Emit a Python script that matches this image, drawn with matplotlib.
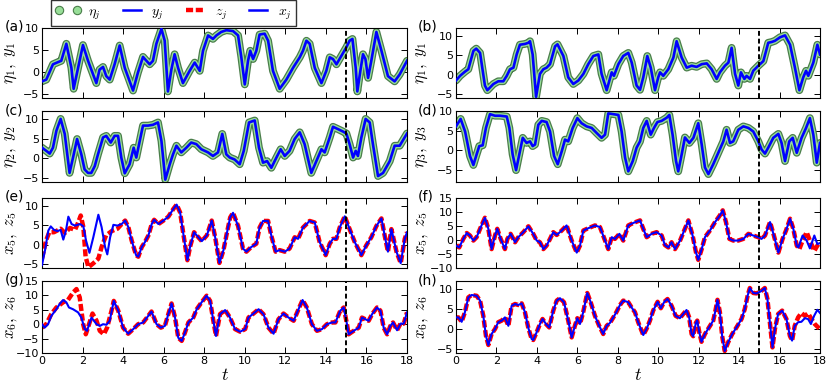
import matplotlib
matplotlib.use('Agg')
import matplotlib.pyplot as plt
import matplotlib.patheffects as pe
from matplotlib.lines import Line2D

plt.rcParams['font.family'] = ['DejaVu Sans']
plt.rcParams['mathtext.fontset'] = 'cm'

# ---------------- data: (t, value) pairs ----------------
a_y = [(0,-2.2),(0.21,-1.8),(0.54,1.7),(0.79,2.2),(0.95,2.5),(1.20,6.4),(1.45,0.9),(1.56,-3.9),(1.78,0.9),(2.02,6.1),
       (2.27,2.5),(2.68,-2.6),(2.84,0.5),(3.01,1.1),(3.17,-1.0),(3.34,-1.8),(3.58,1.7),(3.83,6.0),(4.08,0.9),(4.49,-4.3),
       (4.73,-0.2),(4.98,3.4),(5.15,2.5),(5.31,1.7),(5.47,2.5),(5.64,6.4),(5.89,9.8),(6.05,7.1),(6.21,-4.5),(6.38,0.5),
       (6.54,4.0),(6.71,0.9),(6.95,-2.6),(7.28,0.2),(7.53,2.1),(7.78,0.2),(7.94,4.8),(8.19,8.3),(8.43,7.5),(8.60,8.3),
       (8.84,9.1),(9.09,9.5),(9.42,9.3),(9.67,8.3),(9.83,3.3),(10.0,-2.9),(10.16,2.5),(10.27,4.8),(10.41,2.9),(10.57,4.8),
       (10.73,8.5),(10.98,8.7),(11.15,7.1),(11.39,0.2),(11.72,-3.9),(12.05,-1.8),(12.38,0.9),(12.71,3.3),(12.87,4.8),
       (13.04,7.1),(13.20,6.4),(13.45,0.9),(13.78,-2.6),(14.02,0.2),(14.19,3.3),(14.35,2.9),(14.52,1.7),(14.76,3.6),
       (15.01,5.6),(15.17,7.1),(15.31,7.5),(15.47,0.9),(15.55,-4.5),(15.70,0.2),(15.83,4.0),(15.95,2.9),(16.08,-1.4),
       (16.24,2.5),(16.49,9.1),(16.74,4.8),(17.06,-1.0),(17.39,-2.2),(17.64,-0.6),(18.0,2.5)]
a_eta = list(a_y)

b_y = [(0,-1.5),(0.20,-0.3),(0.45,0.8),(0.61,1.4),(0.86,6.1),(1.00,6.7),(1.19,5.6),(1.43,-2.8),(1.55,-4.0),(1.85,-2.4),
       (2.09,-1.7),(2.34,-1.7),(2.51,-0.3),(2.67,1.4),(2.84,1.8),(3.00,5.2),(3.16,7.7),(3.41,7.9),(3.58,8.2),(3.66,8.6),
       (3.79,5.2),(3.96,-5.7),(4.15,0.2),(4.32,1.4),(4.48,1.8),(4.65,2.7),(4.90,7.3),(5.02,7.8),(5.31,4.8),(5.55,-0.7),
       (5.80,-2.4),(6.05,-1.5),(6.30,0.2),(6.54,2.7),(6.79,4.8),(7.04,5.2),(7.20,0.2),(7.45,-4.0),(7.70,0.6),(7.81,-0.3),
       (8.03,2.7),(8.27,4.8),(8.52,5.6),(8.69,3.1),(8.93,-2.8),(9.10,-3.9),(9.26,-0.7),(9.46,4.8),(9.63,1.8),(9.84,-4.0),
       (10.0,-0.7),(10.09,0.6),(10.25,-0.3),(10.50,1.4),(10.75,4.4),(10.91,8.6),(11.16,4.4),(11.41,1.8),(11.65,2.3),
       (11.90,2.0),(12.15,2.7),(12.40,2.9),(12.64,1.4),(12.89,-1.1),(13.05,0.6),(13.30,2.3),(13.47,3.1),(13.63,6.9),
       (13.80,0.2),(13.96,-2.8),(14.09,0.6),(14.26,-1.1),(14.37,-0.3),(14.54,-1.1),(14.70,1.0),(14.95,2.3),(15.20,3.5),
       (15.44,8.2),(15.61,8.4),(15.77,8.7),(16.02,9.6),(16.27,10.1),(16.52,7.7),(16.76,1.8),(16.98,-4.0),(17.17,-0.7),
       (17.31,1.0),(17.42,-0.3),(17.67,3.1),(17.87,7.7),(18.0,5.2)]
b_eta = list(b_y)

c_y = [(0,2.7),(0.21,1.9),(0.38,1.2),(0.54,2.7),(0.71,7.0),(0.92,10.0),(1.12,6.2),(1.36,-3.7),(1.53,0.2),(1.73,4.9),
       (1.94,1.0),(2.10,-2.8),(2.27,-3.7),(2.43,-3.7),(2.60,-2.0),(2.76,1.0),(3.01,5.3),(3.17,5.7),(3.39,4.0),(3.58,5.7),
       (3.75,5.7),(3.91,0.2),(4.08,-3.8),(4.32,-1.5),(4.52,2.7),(4.65,0.2),(4.82,4.4),(4.98,8.3),(5.23,8.3),(5.47,8.5),
       (5.72,9.1),(5.89,4.4),(6.08,-5.4),(6.30,-1.5),(6.46,1.0),(6.63,3.2),(6.87,1.5),(7.12,2.7),(7.36,4.0),(7.61,3.6),
       (7.86,2.3),(8.19,1.5),(8.43,0.6),(8.68,1.5),(8.89,6.2),(9.09,1.0),(9.26,0.2),(9.50,-0.3),(9.75,-1.5),(9.95,1.9),
       (10.21,9.1),(10.49,9.6),(10.70,2.7),(10.90,-1.1),(11.10,-0.7),(11.31,-2.4),(11.56,0.2),(11.77,2.3),(11.97,0.6),
       (12.21,1.9),(12.46,4.9),(12.71,6.6),(12.95,3.6),(13.28,-3.7),(13.53,-0.7),(13.78,2.3),(13.94,1.5),(14.19,5.3),
       (14.35,8.0),(14.60,7.4),(14.84,6.8),(15.01,6.3),(15.17,3.6),(15.34,0.2),(15.47,1.9),(15.58,0.6),(15.75,5.3),
       (15.96,10.0),(16.16,9.1),(16.32,3.6),(16.57,-4.5),(16.82,-3.7),(17.15,-0.7),(17.39,3.2),(17.64,3.2),(18.0,6.3)]
c_eta = list(c_y)

d_y = [(0,6.1),(0.23,8.0),(0.45,4.8),(0.69,-1.4),(0.86,-3.7),(1.02,-1.0),(1.15,1.1),(1.32,1.3),(1.48,5.7),(1.68,9.2),
       (1.93,8.8),(2.18,8.8),(2.51,8.6),(2.64,5.7),(2.80,-1.0),(2.97,-5.0),(3.13,-1.0),(3.30,3.2),(3.49,1.9),(3.66,2.3),
       (3.79,1.1),(3.91,1.5),(4.07,6.5),(4.24,7.5),(4.48,7.2),(4.65,4.8),(4.85,-1.4),(5.03,-3.5),(5.23,-0.2),(5.39,2.75),
       (5.55,2.3),(5.77,5.7),(6.0,8.2),(6.21,6.9),(6.46,6.1),(6.71,5.7),(6.96,4.4),(7.20,3.2),(7.37,4.0),(7.53,9.4),
       (7.78,9.2),(8.03,9.0),(8.19,4.8),(8.36,-1.8),(8.52,-5.3),(8.74,-2.7),(8.93,0.7),(9.10,2.3),(9.26,5.7),(9.43,7.5),
       (9.63,4.0),(9.79,5.7),(9.96,7.2),(10.17,7.5),(10.42,8.3),(10.55,9.0),(10.71,4.0),(10.88,-2.7),(10.99,-5.3),
       (11.16,-1.0),(11.32,3.3),(11.54,1.9),(11.74,3.2),(11.98,6.9),(12.15,1.5),(12.31,-4.3),(12.48,-6.0),(12.72,-3.5),
       (12.97,-0.6),(13.22,2.3),(13.38,5.25),(13.55,1.9),(13.71,2.3),(13.96,5.25),(14.21,6.1),(14.46,5.7),(14.70,4.8),
       (14.95,2.3),(15.11,0.25),(15.28,-0.8),(15.44,0.7),(15.69,3.2),(15.94,4.2),(16.10,1.9),(16.27,-2.7),(16.48,2.3),
       (16.65,3.2),(16.85,-0.6),(17.09,3.2),(17.31,5.7),(17.50,8.2),(17.67,4.0),(17.84,-3.1),(18.0,1.9)]
d_eta = list(d_y)

e_x = [(0,-5.25),(0.15,-1.4),(0.31,3.6),(0.43,4.7),(0.59,3.8),(0.76,3.5),(0.92,3.8),(1.05,1.3),(1.18,3.6),(1.30,7.2),
       (1.46,5.3),(1.63,4.9),(1.88,5.3),(2.04,4.7),(2.17,1.1),(2.34,-2.1),(2.53,1.9),(2.78,7.7),(2.94,4.5),(3.11,-0.6),
       (3.22,-2.5),(3.36,1.9),(3.52,5.1),(3.72,4.9),(3.93,5.3),(4.10,6.2),(4.26,4.5),(4.42,1.1),(4.64,-2.7),(4.75,-3.1),
       (4.92,-0.6),(5.08,0.7),(5.25,2.4),(5.41,5.3),(5.53,6.4),(5.74,5.3),(5.99,6.2),(6.23,7.2),(6.48,9.2),(6.64,10.3),
       (6.81,8.3),(6.97,2.8),(7.17,-4.0),(7.30,-0.6),(7.50,3.2),(7.71,1.9),(7.88,0.9),(8.13,2.4),(8.37,6.2),(8.54,1.9),
       (8.75,-4.7),(8.95,-1.4),(9.11,2.8),(9.28,7.0),(9.42,8.2),(9.67,4.8),(9.91,-1.0),(10.08,-1.8),(10.32,-0.6),
       (10.57,0.25),(10.73,4.4),(10.90,6.1),(11.15,6.1),(11.31,2.3),(11.52,-1.8),(11.72,-1.4),(11.97,-1.8),(12.21,-1.0),
       (12.46,1.9),(12.63,1.5),(12.87,4.4),(13.20,6.1),(13.45,5.7),(13.69,0.7),(13.99,-2.7),(14.19,0.25),(14.35,1.5),
       (14.52,1.5),(14.68,4.4),(14.93,7.3),(15.17,4.0),(15.42,0.7),(15.75,-2.7),(15.99,-0.2),(16.24,1.9),(16.49,4.8),
       (16.74,6.75),(16.90,2.3),(17.06,-1.8),(17.23,4.0),(17.48,-1.8),(17.69,-4.75),(17.89,1.5),(18.0,3.2)]
e_z_head = [(0,-3.5),(0.20,1.1),(0.36,3.2),(0.59,3.2),(0.92,4.1),(1.13,3.0),(1.38,4.3),(1.63,3.8),(1.79,5.8),(1.91,7.5),
            (2.04,4.5),(2.15,-3.1),(2.29,-5.8),(2.53,-4.8),(2.78,-3.6),(2.94,-0.6),(3.16,2.4),(3.44,3.5),(3.72,4.1),
            (3.93,5.3)]
e_z = e_z_head + [p for p in e_x if p[0] >= 4.10]

f_x = [(0,-2.0),(0.16,-2.65),(0.36,0.4),(0.53,2.5),(0.69,1.6),(0.86,-0.2),(1.02,1.0),(1.19,4.0),(1.43,7.95),(1.60,4.0),
       (1.76,-3.25),(1.93,1.6),(2.04,4.0),(2.21,0.4),(2.42,-3.25),(2.54,0.4),(2.70,2.2),(2.92,-0.8),(3.08,1.0),(3.33,2.8),
       (3.58,4.9),(3.82,2.2),(3.99,-0.2),(4.15,-0.8),(4.32,-3.25),(4.48,-2.0),(4.65,0.4),(4.81,2.8),(4.98,1.8),(5.23,3.4),
       (5.47,5.2),(5.72,-0.2),(5.97,-4.5),(6.13,-2.0),(6.30,3.4),(6.54,4.2),(6.87,5.2),(7.12,4.6),(7.37,-0.2),(7.53,-3.25),
       (7.70,1.0),(7.86,0.4),(8.08,2.2),(8.27,-0.2),(8.52,5.2),(8.77,6.1),(9.10,7.0),(9.26,4.0),(9.43,1.0),(9.67,2.2),
       (9.92,2.8),(10.17,1.6),(10.33,-1.8),(10.50,-2.65),(10.66,-0.8),(10.83,-3.25),(11.08,-0.2),(11.32,4.0),(11.49,7.0),
       (11.70,1.6),(11.87,-4.5),(11.98,-7.1),(12.15,-3.25),(12.31,1.0),(12.56,3.4),(12.81,6.4),(13.05,8.8),(13.19,10.6),
       (13.35,6.4),(13.52,0.4),(13.71,-0.2),(13.96,-0.2),(14.21,0.4),(14.46,2.2),(14.70,1.6),(14.95,1.0),(15.11,0.4),
       (15.28,1.6),(15.53,6.4),(15.72,1.6),(15.94,-4.5),(16.15,0.4),(16.32,3.4),(16.52,7.6),(16.68,4.0),(16.85,-2.0),
       (16.93,-2.65),(17.14,1.6),(17.34,-0.2),(17.50,-3.0),(17.72,1.6),(17.87,-1.45),(18.0,-1.1)]
f_z_tail = [(16.85,-2.0),(16.98,-3.25),(17.14,-0.2),(17.34,2.8),(17.50,-0.2),(17.72,-3.9),(17.87,-2.0),(18.0,-0.8)]
f_z = [p for p in f_x if p[0] <= 16.68] + f_z_tail

g_x = [(0,0),(0.13,-1.2),(0.30,0),(0.46,2.9),(0.71,5.2),(0.87,7.0),(1.04,8.4),(1.20,7.6),(1.33,5.8),(1.53,5.2),(1.78,4.1),
       (1.94,2.3),(2.11,-1.7),(2.22,-2.3),(2.44,2.3),(2.69,0),(2.85,-0.6),(3.01,0),(3.18,-0.2),(3.34,1.2),(3.54,8.1),
       (3.76,4.7),(4.00,-1.2),(4.25,-3.3),(4.50,-1.7),(4.74,0),(4.99,0.6),(5.24,2.9),(5.40,4.4),(5.65,0),(5.86,-1.2),
       (6.06,-0.6),(6.23,3.5),(6.39,7.2),(6.56,2.3),(6.72,-4.7),(6.89,-5.8),(7.05,-2.9),(7.22,0.6),(7.46,2.3),(7.63,5.2),
       (7.87,7.6),(8.12,9.9),(8.29,8.1),(8.45,1.2),(8.58,-4.1),(8.78,3.5),(9.03,4.9),(9.27,2.3),(9.52,-1.7),(9.77,-2.6),
       (10.02,-1.7),(10.18,2.3),(10.43,3.7),(10.68,5.2),(10.92,3.5),(11.17,-1.2),(11.42,-3.3),(11.66,1.7),(11.91,3.7),
       (12.16,2.3),(12.41,1.2),(12.65,5.2),(12.85,8.4),(13.06,5.8),(13.31,0),(13.56,-2.3),(13.81,-1.7),(14.05,0),
       (14.30,0.6),(14.47,0.6),(14.71,4.7),(14.88,5.8),(15.04,0),(15.12,-3.5),(15.37,-2.3),(15.62,-1.2),(15.78,2.3),
       (15.95,1.7),(16.11,1.2),(16.28,3.5),(16.52,5.8),(16.69,4.7),(16.85,-1.2),(17.02,-3.5),(17.18,-0.6),(17.31,0.6),
       (17.51,-2.1),(17.68,0.2),(17.84,0.2),(18.0,4.1)]
g_z_head = [(0,-1.2),(0.21,0),(0.46,3.5),(0.71,5.8),(1.04,7.6),(1.28,8.4),(1.53,11.0),(1.70,12.2),(1.86,9.3),(2.03,0),
            (2.16,-3.5),(2.32,0),(2.49,3.7),(2.69,1.2),(2.85,-2.3),(3.05,-3.5),(3.21,-1.2),(3.43,4.7)]
g_z = g_z_head + [p for p in g_x if p[0] >= 3.54]

h_x = [(0,2.9),(0.12,2.9),(0.28,1.8),(0.44,4.2),(0.61,7.9),(0.77,8.5),(1.02,8.3),(1.19,7.1),(1.35,3.3),(1.48,-1.7),
       (1.60,-4.0),(1.76,-1.25),(1.93,0),(2.09,1.7),(2.26,2.1),(2.42,2.9),(2.59,0.8),(2.75,5.8),(2.92,6.25),(3.08,6.0),
       (3.25,6.4),(3.41,4.2),(3.57,0.4),(3.74,-2.5),(3.82,-2.75),(3.99,-0.8),(4.15,1.25),(4.28,2.5),(4.45,1.25),(4.61,0.4),
       (4.81,4.6),(4.98,7.1),(5.14,7.7),(5.34,6.7),(5.55,2.1),(5.72,-2.1),(5.88,0.8),(6.0,2.7),(6.13,1.25),(6.29,4.2),
       (6.49,9.0),(6.66,6.7),(6.87,3.3),(7.08,0.8),(7.28,-1.25),(7.45,0.8),(7.61,1.5),(7.78,2.9),(7.94,4.3),(8.11,6.0),
       (8.27,7.1),(8.52,6.7),(8.68,5.4),(8.85,4.2),(9.01,1.7),(9.26,-1.5),(9.42,0),(9.59,2.1),(9.75,4.6),(9.97,6.8),
       (10.13,5.2),(10.30,6.8),(10.46,7.5),(10.66,5.8),(10.86,3.3),(11.07,2.7),(11.24,3.75),(11.40,4.75),(11.53,2.9),
       (11.65,-1.25),(11.73,-1.8),(11.86,1.5),(11.93,2.1),(12.03,-0.8),(12.14,-3.2),(12.31,-1.25),(12.55,0.7),(12.72,2.1),
       (12.83,4.6),(12.93,7.3),(13.05,4.2),(13.16,-1.7),(13.29,-5.5),(13.46,-3.3),(13.66,-1.25),(13.87,0.4),(14.12,2.5),
       (14.28,5.0),(14.42,8.3),(14.53,10.25),(14.70,9.0),(14.86,8.9),(15.07,9.4),(15.27,10.25),(15.40,7.5),(15.52,1.7),
       (15.65,-4.6),(15.77,0),(15.93,3.75),(16.13,4.6),(16.34,2.5),(16.51,-1.7),(16.62,-2.9),(16.75,0.8),(16.92,1.7),
       (17.08,1.8),(17.25,2.7),(17.41,2.5),(17.55,1.25),(17.71,3.3),(17.87,4.8),(18.0,4.0)]
h_z_tail = [(16.75,0.8),(16.92,2.9),(17.08,4.0),(17.25,3.3),(17.41,3.9),(17.58,2.5),(17.74,1.25),(17.91,0.4),(18.0,0.0)]
h_z = [p for p in h_x if p[0] <= 16.62] + h_z_tail

panel_labels = ['(a)', '(b)', '(c)', '(d)', '(e)', '(f)', '(g)', '(h)']
ylabels = [r'$\eta_1,\ y_1$', r'$\eta_1,\ y_1$', r'$\eta_2,\ y_2$', r'$\eta_3,\ y_3$',
           r'$x_5,\ z_5$', r'$x_5,\ z_5$', r'$x_6,\ z_6$', r'$x_6,\ z_6$']
ylims = [(-6, 10), (-6, 12), (-6, 12), (-8, 10), (-6, 12), (-10, 15), (-10, 15), (-6, 12)]
yticks = [[-5, 0, 5, 10], [-5, 0, 5, 10], [-5, 0, 5, 10], [-5, 0, 5, 10],
          [-5, 0, 5, 10], [-10, -5, 0, 5, 10, 15], [-10, -5, 0, 5, 10, 15], [-5, 0, 5, 10]]
xticks = [0, 2, 4, 6, 8, 10, 12, 14, 16, 18]
t_switch = 15
legend_labels = [r'$\eta_j$', r'$y_j$', r'$z_j$', r'$x_j$']

top_series = [(a_eta, a_y), (b_eta, b_y), (c_eta, c_y), (d_eta, d_y)]
bot_series = [(e_z, e_x), (f_z, f_x), (g_z, g_x), (h_z, h_x)]

# ---------------- layout / style ----------------
W, H = 830, 384
BLUE = '#0000ff'
RED = '#ff0000'
GREEN_FILL = '#98de98'
GREEN_EDGE = '#4a7d4a'
RED_DASH = (1.6, 0.6)

fig = plt.figure(figsize=(W / 100, H / 100), dpi=100)
col_px = [(42, 365), (456, 364)]
row_px = [(28, 98), (111, 182), (198, 268), (281, 353)]


def unzip(pairs):
    return [p[0] for p in pairs], [p[1] for p in pairs]


for i in range(8):
    r, c = divmod(i, 2)
    x0, w = col_px[c]
    y0, y1 = row_px[r]
    ax = fig.add_axes([x0 / W, 1 - y1 / H, w / W, (y1 - y0) / H])
    if r < 2:
        eta, y = top_series[i]
        te, ve = unzip(eta)
        ty, vy = unzip(y)
        ax.plot(te, ve, color=GREEN_FILL, lw=3.8, solid_capstyle='round', solid_joinstyle='round',
                zorder=2,
                path_effects=[pe.Stroke(linewidth=5.6, foreground=GREEN_EDGE, joinstyle='round'),
                              pe.Normal()])
        ax.plot(ty, vy, color=BLUE, lw=1.9, solid_joinstyle='round', zorder=3)
    else:
        z, x = bot_series[i - 4]
        tz, vz = unzip(z)
        tx, vx = unzip(x)
        ax.plot(tz, vz, color=RED, lw=3.2, dashes=RED_DASH, zorder=2)
        ax.plot(tx, vx, color=BLUE, lw=1.5, solid_joinstyle='round', zorder=3)
    ax.axvline(t_switch, color='k', lw=1.4, dashes=(2.5, 1.5), zorder=4)
    ax.set_xlim(0, 18)
    ax.set_ylim(*ylims[i])
    ax.set_xticks(xticks)
    ax.set_yticks(yticks[i])
    ax.tick_params(direction='in', top=True, right=True, length=4, width=0.7,
                   labelsize=8, pad=2)
    if r < 3:
        ax.set_xticklabels([])
    else:
        ax.set_xlabel(r'$t$', fontsize=13, labelpad=0)
    for s in ax.spines.values():
        s.set_linewidth(0.8)
    ax.set_ylabel(ylabels[i], fontsize=12)
    ax.yaxis.set_label_coords(-0.062 if c == 0 else -0.072, 0.5)
    fig.text((5 if c == 0 else 418) / W, 1 - (y0 - 1) / H, panel_labels[i],
             fontsize=10, ha='left', va='center')

handles = [
    Line2D([], [], ls='none', marker='o', ms=6, mfc=GREEN_FILL, mec=GREEN_EDGE, mew=0.8),
    Line2D([], [], color=BLUE, lw=1.8),
    Line2D([], [], color=RED, lw=3.2, dashes=RED_DASH),
    Line2D([], [], color=BLUE, lw=1.8),
]
leg = fig.legend(handles, legend_labels, loc='upper left', bbox_to_anchor=(51 / W, 1.0),
                 ncol=4, numpoints=2, fontsize=10, frameon=True, fancybox=False,
                 borderaxespad=0.0, handlelength=1.9, columnspacing=1.3, handletextpad=0.45,
                 borderpad=0.3)
leg.get_frame().set_edgecolor('k')
leg.get_frame().set_linewidth(1.0)

fig.savefig('out.png', dpi=100)
